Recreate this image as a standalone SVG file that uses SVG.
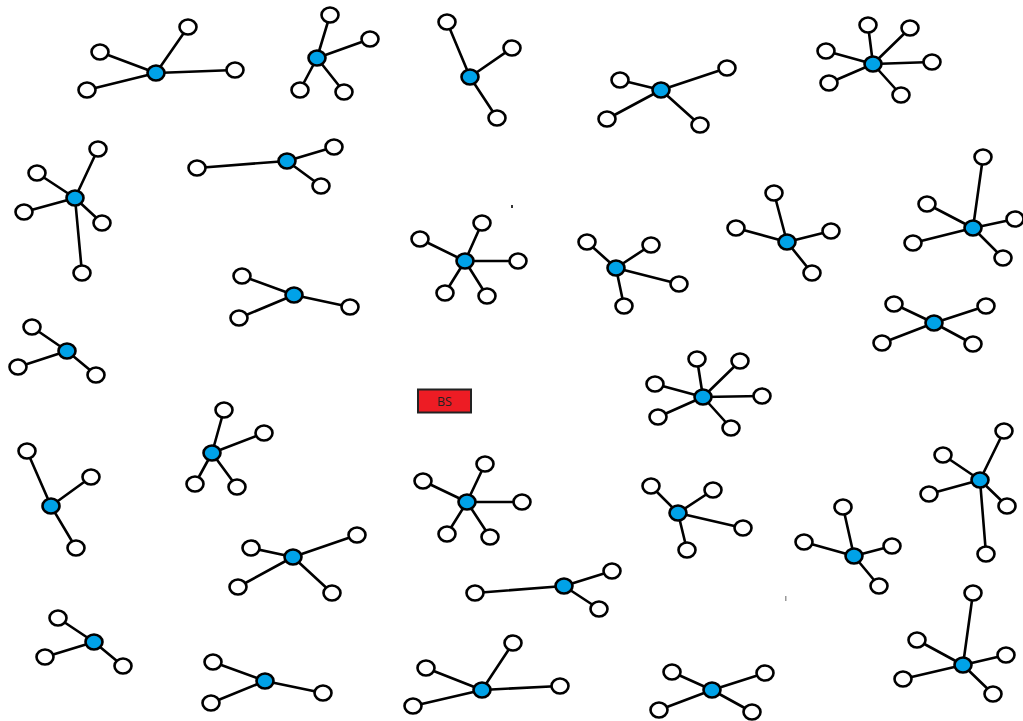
<svg xmlns="http://www.w3.org/2000/svg" width="1023" height="721" viewBox="0 0 1023 721">
<style>
.e{stroke:#000;stroke-width:2.6;fill:none;stroke-linecap:round}
.l{fill:#fff;stroke:#000;stroke-width:2.6}
.h{fill:#00a2e8;stroke:#000;stroke-width:2.6}
.bs{fill:#ed1c24;stroke:#222;stroke-width:2}
.t{font-family:"Open Sans","DejaVu Sans",sans-serif;font-size:12.5px;fill:#222;text-anchor:middle}
</style>
<rect width="1023" height="721" fill="#fff"/>
<g id="connectors" class="e">
<path d="M156 73L100 52M156 73L188 27M156 73L235 70M156 73L87 90"/>
<path d="M317 58L330 15M317 58L370 39M317 58L300 90M317 58L344 92"/>
<path d="M470 77L447 22M470 77L512 48M470 77L497 118"/>
<path d="M661 90L620 80M661 90L607 119M661 90L727 68M661 90L700 125"/>
<path d="M873 64L868 25M873 64L910 28M873 64L932 62M873 64L901 95M873 64L829 83M873 64L826 51"/>
<path d="M75 198L98 149M75 198L37 173M75 198L24 212M75 198L102 223M75 198L82 273"/>
<path d="M287 161L197 168M287 161L334 147M287 161L321 186"/>
<path d="M294 295L242 276M294 295L239 318M294 295L350 307"/>
<path d="M67 351L32 327M67 351L18 367M67 351L96 375"/>
<path d="M465 261L420 239M465 261L482 223M465 261L518 261M465 261L445 293M465 261L487 296"/>
<path d="M616 268L587 242M616 268L651 245M616 268L679 284M616 268L624 306"/>
<path d="M787 242L774 193M787 242L736 228M787 242L831 231M787 242L812 273"/>
<path d="M973 228L983 157M973 228L927 204M973 228L913 243M973 228L1015 219M973 228L1003 258"/>
<path d="M934 323L894 304M934 323L882 343M934 323L986 306M934 323L973 344"/>
<path d="M703 397L697 359M703 397L740 361M703 397L762 396M703 397L731 428M703 397L658 417M703 397L655 384"/>
<path d="M212 453L224 410M212 453L264 433M212 453L195 484M212 453L237 487"/>
<path d="M51 506L27 451M51 506L91 477M51 506L76 548"/>
<path d="M467 502L423 481M467 502L485 464M467 502L522 502M467 502L447 534M467 502L490 537"/>
<path d="M293 557L251 548M293 557L357 535M293 557L238 587M293 557L332 593"/>
<path d="M678 513L651 486M678 513L713 490M678 513L743 528M678 513L687 550"/>
<path d="M854 556L843 507M854 556L804 542M854 556L892 546M854 556L879 586"/>
<path d="M980 480L1004 431M980 480L943 455M980 480L929 494M980 480L1007 506M980 480L986 554"/>
<path d="M564 586L475 593M564 586L612 571M564 586L599 609"/>
<path d="M94 642L58 618M94 642L45 657M94 642L123 666"/>
<path d="M265 681L213 662M265 681L211 703M265 681L323 693"/>
<path d="M482 690L513 643M482 690L426 668M482 690L413 706M482 690L560 686"/>
<path d="M712 690L672 672M712 690L659 710M712 690L765 673M712 690L752 712"/>
<path d="M963 665L973 593M963 665L917 640M963 665L903 679M963 665L1006 655M963 665L993 694"/>
</g>
<g id="c1"><ellipse class="l" cx="100" cy="52" rx="8.5" ry="7.5"/><ellipse class="l" cx="188" cy="27" rx="8.5" ry="7.5"/><ellipse class="l" cx="235" cy="70" rx="8.5" ry="7.5"/><ellipse class="l" cx="87" cy="90" rx="8.5" ry="7.5"/><ellipse class="h" cx="156" cy="73" rx="8.5" ry="7.5"/></g>
<g id="c2"><ellipse class="l" cx="330" cy="15" rx="8.5" ry="7.5"/><ellipse class="l" cx="370" cy="39" rx="8.5" ry="7.5"/><ellipse class="l" cx="300" cy="90" rx="8.5" ry="7.5"/><ellipse class="l" cx="344" cy="92" rx="8.5" ry="7.5"/><ellipse class="h" cx="317" cy="58" rx="8.5" ry="7.5"/></g>
<g id="c3"><ellipse class="l" cx="447" cy="22" rx="8.5" ry="7.5"/><ellipse class="l" cx="512" cy="48" rx="8.5" ry="7.5"/><ellipse class="l" cx="497" cy="118" rx="8.5" ry="7.5"/><ellipse class="h" cx="470" cy="77" rx="8.5" ry="7.5"/></g>
<g id="c4"><ellipse class="l" cx="620" cy="80" rx="8.5" ry="7.5"/><ellipse class="l" cx="607" cy="119" rx="8.5" ry="7.5"/><ellipse class="l" cx="727" cy="68" rx="8.5" ry="7.5"/><ellipse class="l" cx="700" cy="125" rx="8.5" ry="7.5"/><ellipse class="h" cx="661" cy="90" rx="8.5" ry="7.5"/></g>
<g id="c5"><ellipse class="l" cx="868" cy="25" rx="8.5" ry="7.5"/><ellipse class="l" cx="910" cy="28" rx="8.5" ry="7.5"/><ellipse class="l" cx="932" cy="62" rx="8.5" ry="7.5"/><ellipse class="l" cx="901" cy="95" rx="8.5" ry="7.5"/><ellipse class="l" cx="829" cy="83" rx="8.5" ry="7.5"/><ellipse class="l" cx="826" cy="51" rx="8.5" ry="7.5"/><ellipse class="h" cx="873" cy="64" rx="8.5" ry="7.5"/></g>
<g id="c6"><ellipse class="l" cx="98" cy="149" rx="8.5" ry="7.5"/><ellipse class="l" cx="37" cy="173" rx="8.5" ry="7.5"/><ellipse class="l" cx="24" cy="212" rx="8.5" ry="7.5"/><ellipse class="l" cx="102" cy="223" rx="8.5" ry="7.5"/><ellipse class="l" cx="82" cy="273" rx="8.5" ry="7.5"/><ellipse class="h" cx="75" cy="198" rx="8.5" ry="7.5"/></g>
<g id="c7"><ellipse class="l" cx="197" cy="168" rx="8.5" ry="7.5"/><ellipse class="l" cx="334" cy="147" rx="8.5" ry="7.5"/><ellipse class="l" cx="321" cy="186" rx="8.5" ry="7.5"/><ellipse class="h" cx="287" cy="161" rx="8.5" ry="7.5"/></g>
<g id="c8"><ellipse class="l" cx="242" cy="276" rx="8.5" ry="7.5"/><ellipse class="l" cx="239" cy="318" rx="8.5" ry="7.5"/><ellipse class="l" cx="350" cy="307" rx="8.5" ry="7.5"/><ellipse class="h" cx="294" cy="295" rx="8.5" ry="7.5"/></g>
<g id="c9"><ellipse class="l" cx="32" cy="327" rx="8.5" ry="7.5"/><ellipse class="l" cx="18" cy="367" rx="8.5" ry="7.5"/><ellipse class="l" cx="96" cy="375" rx="8.5" ry="7.5"/><ellipse class="h" cx="67" cy="351" rx="8.5" ry="7.5"/></g>
<g id="c10"><ellipse class="l" cx="420" cy="239" rx="8.5" ry="7.5"/><ellipse class="l" cx="482" cy="223" rx="8.5" ry="7.5"/><ellipse class="l" cx="518" cy="261" rx="8.5" ry="7.5"/><ellipse class="l" cx="445" cy="293" rx="8.5" ry="7.5"/><ellipse class="l" cx="487" cy="296" rx="8.5" ry="7.5"/><ellipse class="h" cx="465" cy="261" rx="8.5" ry="7.5"/></g>
<g id="c11"><ellipse class="l" cx="587" cy="242" rx="8.5" ry="7.5"/><ellipse class="l" cx="651" cy="245" rx="8.5" ry="7.5"/><ellipse class="l" cx="679" cy="284" rx="8.5" ry="7.5"/><ellipse class="l" cx="624" cy="306" rx="8.5" ry="7.5"/><ellipse class="h" cx="616" cy="268" rx="8.5" ry="7.5"/></g>
<g id="c12"><ellipse class="l" cx="774" cy="193" rx="8.5" ry="7.5"/><ellipse class="l" cx="736" cy="228" rx="8.5" ry="7.5"/><ellipse class="l" cx="831" cy="231" rx="8.5" ry="7.5"/><ellipse class="l" cx="812" cy="273" rx="8.5" ry="7.5"/><ellipse class="h" cx="787" cy="242" rx="8.5" ry="7.5"/></g>
<g id="c13"><ellipse class="l" cx="983" cy="157" rx="8.5" ry="7.5"/><ellipse class="l" cx="927" cy="204" rx="8.5" ry="7.5"/><ellipse class="l" cx="913" cy="243" rx="8.5" ry="7.5"/><ellipse class="l" cx="1015" cy="219" rx="8.5" ry="7.5"/><ellipse class="l" cx="1003" cy="258" rx="8.5" ry="7.5"/><ellipse class="h" cx="973" cy="228" rx="8.5" ry="7.5"/></g>
<g id="c14"><ellipse class="l" cx="894" cy="304" rx="8.5" ry="7.5"/><ellipse class="l" cx="882" cy="343" rx="8.5" ry="7.5"/><ellipse class="l" cx="986" cy="306" rx="8.5" ry="7.5"/><ellipse class="l" cx="973" cy="344" rx="8.5" ry="7.5"/><ellipse class="h" cx="934" cy="323" rx="8.5" ry="7.5"/></g>
<g id="c15"><ellipse class="l" cx="697" cy="359" rx="8.5" ry="7.5"/><ellipse class="l" cx="740" cy="361" rx="8.5" ry="7.5"/><ellipse class="l" cx="762" cy="396" rx="8.5" ry="7.5"/><ellipse class="l" cx="731" cy="428" rx="8.5" ry="7.5"/><ellipse class="l" cx="658" cy="417" rx="8.5" ry="7.5"/><ellipse class="l" cx="655" cy="384" rx="8.5" ry="7.5"/><ellipse class="h" cx="703" cy="397" rx="8.5" ry="7.5"/></g>
<g id="bs"><rect class="bs" x="418" y="389.5" width="53" height="23"/><text class="t" x="444.5" y="405.5">BS</text></g>
<g id="c16"><ellipse class="l" cx="224" cy="410" rx="8.5" ry="7.5"/><ellipse class="l" cx="264" cy="433" rx="8.5" ry="7.5"/><ellipse class="l" cx="195" cy="484" rx="8.5" ry="7.5"/><ellipse class="l" cx="237" cy="487" rx="8.5" ry="7.5"/><ellipse class="h" cx="212" cy="453" rx="8.5" ry="7.5"/></g>
<g id="c17"><ellipse class="l" cx="27" cy="451" rx="8.5" ry="7.5"/><ellipse class="l" cx="91" cy="477" rx="8.5" ry="7.5"/><ellipse class="l" cx="76" cy="548" rx="8.5" ry="7.5"/><ellipse class="h" cx="51" cy="506" rx="8.5" ry="7.5"/></g>
<g id="c18"><ellipse class="l" cx="423" cy="481" rx="8.5" ry="7.5"/><ellipse class="l" cx="485" cy="464" rx="8.5" ry="7.5"/><ellipse class="l" cx="522" cy="502" rx="8.5" ry="7.5"/><ellipse class="l" cx="447" cy="534" rx="8.5" ry="7.5"/><ellipse class="l" cx="490" cy="537" rx="8.5" ry="7.5"/><ellipse class="h" cx="467" cy="502" rx="8.5" ry="7.5"/></g>
<g id="c19"><ellipse class="l" cx="251" cy="548" rx="8.5" ry="7.5"/><ellipse class="l" cx="357" cy="535" rx="8.5" ry="7.5"/><ellipse class="l" cx="238" cy="587" rx="8.5" ry="7.5"/><ellipse class="l" cx="332" cy="593" rx="8.5" ry="7.5"/><ellipse class="h" cx="293" cy="557" rx="8.5" ry="7.5"/></g>
<g id="c20"><ellipse class="l" cx="651" cy="486" rx="8.5" ry="7.5"/><ellipse class="l" cx="713" cy="490" rx="8.5" ry="7.5"/><ellipse class="l" cx="743" cy="528" rx="8.5" ry="7.5"/><ellipse class="l" cx="687" cy="550" rx="8.5" ry="7.5"/><ellipse class="h" cx="678" cy="513" rx="8.5" ry="7.5"/></g>
<g id="c21"><ellipse class="l" cx="843" cy="507" rx="8.5" ry="7.5"/><ellipse class="l" cx="804" cy="542" rx="8.5" ry="7.5"/><ellipse class="l" cx="892" cy="546" rx="8.5" ry="7.5"/><ellipse class="l" cx="879" cy="586" rx="8.5" ry="7.5"/><ellipse class="h" cx="854" cy="556" rx="8.5" ry="7.5"/></g>
<g id="c22"><ellipse class="l" cx="1004" cy="431" rx="8.5" ry="7.5"/><ellipse class="l" cx="943" cy="455" rx="8.5" ry="7.5"/><ellipse class="l" cx="929" cy="494" rx="8.5" ry="7.5"/><ellipse class="l" cx="1007" cy="506" rx="8.5" ry="7.5"/><ellipse class="l" cx="986" cy="554" rx="8.5" ry="7.5"/><ellipse class="h" cx="980" cy="480" rx="8.5" ry="7.5"/></g>
<g id="c23"><ellipse class="l" cx="475" cy="593" rx="8.5" ry="7.5"/><ellipse class="l" cx="612" cy="571" rx="8.5" ry="7.5"/><ellipse class="l" cx="599" cy="609" rx="8.5" ry="7.5"/><ellipse class="h" cx="564" cy="586" rx="8.5" ry="7.5"/></g>
<g id="c24"><ellipse class="l" cx="58" cy="618" rx="8.5" ry="7.5"/><ellipse class="l" cx="45" cy="657" rx="8.5" ry="7.5"/><ellipse class="l" cx="123" cy="666" rx="8.5" ry="7.5"/><ellipse class="h" cx="94" cy="642" rx="8.5" ry="7.5"/></g>
<g id="c25"><ellipse class="l" cx="213" cy="662" rx="8.5" ry="7.5"/><ellipse class="l" cx="211" cy="703" rx="8.5" ry="7.5"/><ellipse class="l" cx="323" cy="693" rx="8.5" ry="7.5"/><ellipse class="h" cx="265" cy="681" rx="8.5" ry="7.5"/></g>
<g id="c26"><ellipse class="l" cx="513" cy="643" rx="8.5" ry="7.5"/><ellipse class="l" cx="426" cy="668" rx="8.5" ry="7.5"/><ellipse class="l" cx="413" cy="706" rx="8.5" ry="7.5"/><ellipse class="l" cx="560" cy="686" rx="8.5" ry="7.5"/><ellipse class="h" cx="482" cy="690" rx="8.5" ry="7.5"/></g>
<g id="c27"><ellipse class="l" cx="672" cy="672" rx="8.5" ry="7.5"/><ellipse class="l" cx="659" cy="710" rx="8.5" ry="7.5"/><ellipse class="l" cx="765" cy="673" rx="8.5" ry="7.5"/><ellipse class="l" cx="752" cy="712" rx="8.5" ry="7.5"/><ellipse class="h" cx="712" cy="690" rx="8.5" ry="7.5"/></g>
<g id="c28"><ellipse class="l" cx="973" cy="593" rx="8.5" ry="7.5"/><ellipse class="l" cx="917" cy="640" rx="8.5" ry="7.5"/><ellipse class="l" cx="903" cy="679" rx="8.5" ry="7.5"/><ellipse class="l" cx="1006" cy="655" rx="8.5" ry="7.5"/><ellipse class="l" cx="993" cy="694" rx="8.5" ry="7.5"/><ellipse class="h" cx="963" cy="665" rx="8.5" ry="7.5"/></g>
<rect x="511" y="205" width="2" height="3" fill="#333"/>
<rect x="785" y="596" width="1.5" height="5" fill="#999"/>
</svg>
